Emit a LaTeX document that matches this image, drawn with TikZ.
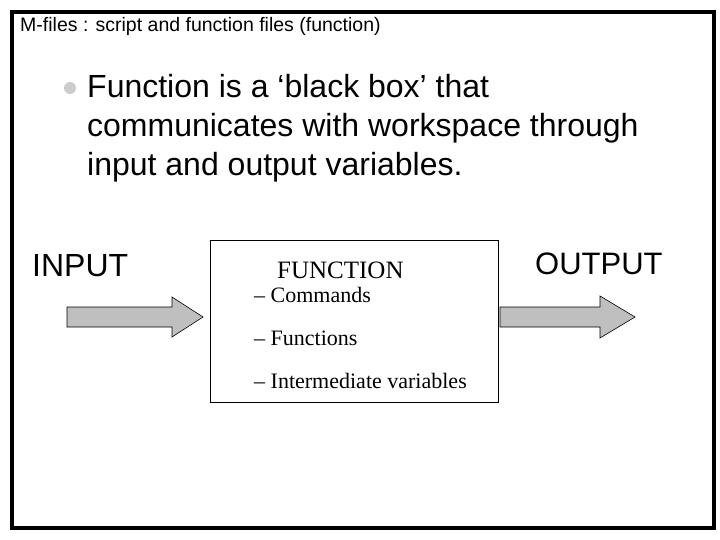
\documentclass[tikz,border=0pt]{standalone}
\usepackage{fontspec}
\setmainfont{Liberation Sans}
\newfontfamily\serif{Liberation Serif}
\usetikzlibrary{positioning}
\begin{document}
\begin{tikzpicture}[x=1pt,y=-1pt,
  txt/.style={anchor=base west,inner sep=0pt},
  big/.style={txt,font=\fontsize{32}{39}\selectfont},
  item/.style={txt,font=\serif\fontsize{22}{24}\selectfont},
  blockarrow/.style={draw=black,fill=black!25,line width=0.6pt}]
  \useasboundingbox (0,0) rectangle (720,540);
  \fill[white] (0,0) rectangle (720,540);
  \draw[line width=4pt] (12,12) rectangle (714,528);
  \node[txt,font=\fontsize{19.5}{22}\selectfont] (title) at (20,32) {M-files : script and function files (function)};
  \fill[black!20] (70,88) circle (6);
  \node[big] (l1) at (87,98) {Function is a ‘black box’ that};
  \node[big] (l2) at (87,137) {communicates with workspace through};
  \node[big] (l3) at (87,176) {input and output variables.};
  \node[txt,font=\fontsize{32}{39}\selectfont] (in) at (32,276) {INPUT};
  \node[txt,font=\fontsize{31}{39}\selectfont] (out) at (535,274) {OUTPUT};
  \node[draw,line width=0.6pt,minimum width=288,minimum height=162,inner sep=0pt] (box) at (354,321) {};
  \node[txt,font=\serif\fontsize{25}{27}\selectfont] (fn) at (277,278) {FUNCTION};
  \node[item] (c1) at (254,302) {– Commands};
  \node[item] (c2) at (254,345) {– Functions};
  \node[item] (c3) at (254,388) {– Intermediate variables};
  % block arrows
  \draw[blockarrow] (67,307) -- (172,307) -- (172,297) -- (203,317) -- (172,337) -- (172,327) -- (67,327) -- cycle;
  \draw[blockarrow] (500,307) -- (600,307) -- (600,296) -- (635,317) -- (600,338) -- (600,327) -- (500,327) -- cycle;
\end{tikzpicture}
\end{document}
